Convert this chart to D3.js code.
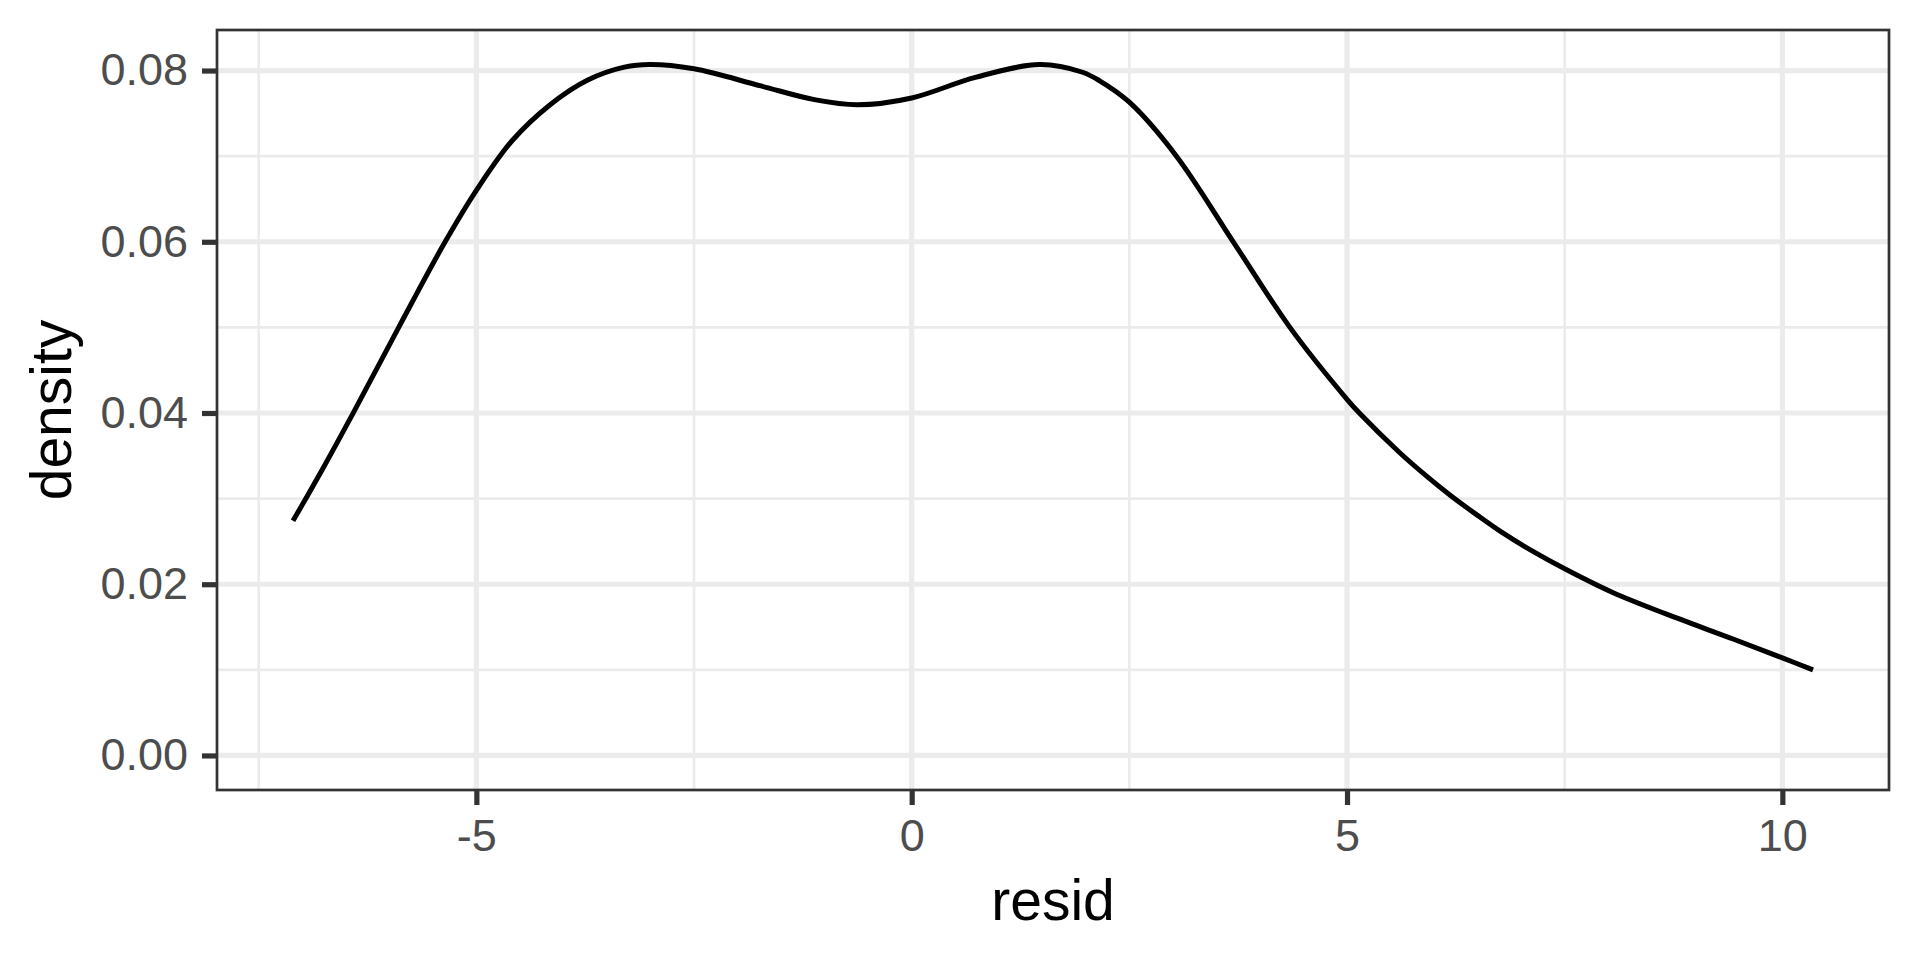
<!DOCTYPE html>
<html>
<head>
<meta charset="utf-8">
<script src="https://cdn.jsdelivr.net/npm/d3@7"></script>
<style>
  html, body { margin: 0; padding: 0; background: #ffffff; }
  svg { display: block; font-family: "Liberation Sans", Arial, Helvetica, sans-serif; }
</style>
</head>
<body>
<svg id="chart" width="1920" height="960"></svg>
<script>
// ---- data ----
const residValues = [-7.106, -6.753, -6.409, -5.892, -5.375, -5.0, -4.59, -4.142, -3.72, -3.30, -3.005, -2.5, -1.732, -1.117, -0.624, 0.0, 0.731, 1.47, 1.962, 2.159, 2.5, 3.041, 3.693, 4.344, 5.0, 5.15, 5.612, 5.917, 6.185, 6.491, 6.758, 7.141, 7.5, 8.058, 8.67, 9.434, 10.0, 10.352];
const densityValues = [0.0274, 0.0337, 0.0401, 0.0500, 0.0597, 0.0660, 0.0718, 0.0761, 0.0789, 0.0804, 0.0807, 0.0802, 0.0782, 0.0766, 0.0760, 0.0768, 0.0792, 0.0807, 0.0798, 0.0788, 0.0763, 0.0700, 0.0600, 0.0500, 0.0416, 0.0399, 0.0353, 0.0326, 0.0304, 0.0281, 0.0262, 0.0238, 0.0218, 0.0190, 0.0165, 0.0136, 0.0114, 0.0100];
const xMajorTicks = [-5, 0, 5, 10];
const xMinorTicks = [-7.5, -2.5, 2.5, 7.5];
const yMajorTicks = [0, 0.02, 0.04, 0.06, 0.08];
const yMinorTicks = [0.01, 0.03, 0.05, 0.07];
const xTitle = "resid";
const yTitle = "density";

const points = residValues.map((x, i) => ({ x, y: densityValues[i] }));

// ---- layout ----
const panel = { left: 217, right: 1889, top: 30, bottom: 790 };
const svg = d3.select("#chart");

const xExt = d3.extent(residValues);
const xPad = (xExt[1] - xExt[0]) * 0.05;
const yMax = d3.max(densityValues);
const yPad = (yMax - 0) * 0.05;

const x = d3.scaleLinear().domain([xExt[0] - xPad, xExt[1] + xPad]).range([panel.left, panel.right]);
const y = d3.scaleLinear().domain([0 - yPad, yMax + yPad]).range([panel.bottom, panel.top]);

const W = panel.right - panel.left, H = panel.bottom - panel.top;

svg.append("defs").append("clipPath").attr("id", "clip")
  .append("rect").attr("x", panel.left).attr("y", panel.top).attr("width", W).attr("height", H);

const grid = svg.append("g").attr("clip-path", "url(#clip)");
// minor grid
grid.selectAll(".xmin").data(xMinorTicks).enter().append("line")
  .attr("x1", d => x(d)).attr("x2", d => x(d)).attr("y1", panel.top).attr("y2", panel.bottom)
  .attr("stroke", "#ebebeb").attr("stroke-width", 2.7);
grid.selectAll(".ymin").data(yMinorTicks).enter().append("line")
  .attr("y1", d => y(d)).attr("y2", d => y(d)).attr("x1", panel.left).attr("x2", panel.right)
  .attr("stroke", "#ebebeb").attr("stroke-width", 2.7);
// major grid
grid.selectAll(".xmaj").data(xMajorTicks).enter().append("line")
  .attr("x1", d => x(d)).attr("x2", d => x(d)).attr("y1", panel.top).attr("y2", panel.bottom)
  .attr("stroke", "#ebebeb").attr("stroke-width", 5.2);
grid.selectAll(".ymaj").data(yMajorTicks).enter().append("line")
  .attr("y1", d => y(d)).attr("y2", d => y(d)).attr("x1", panel.left).attr("x2", panel.right)
  .attr("stroke", "#ebebeb").attr("stroke-width", 5.2);

// density line
const line = d3.line().x(d => x(d.x)).y(d => y(d.y)).curve(d3.curveCatmullRom.alpha(0.5));
svg.append("path").datum(points)
  .attr("d", line)
  .attr("fill", "none")
  .attr("stroke", "#000000")
  .attr("stroke-width", 5)
  .attr("stroke-linejoin", "round")
  .attr("stroke-linecap", "butt")
  .attr("clip-path", "url(#clip)");

// panel border
svg.append("rect")
  .attr("x", panel.left).attr("y", panel.top).attr("width", W).attr("height", H)
  .attr("fill", "none").attr("stroke", "#333333").attr("stroke-width", 2.7);

// axes
const xAxis = d3.axisBottom(x).tickValues(xMajorTicks).tickSize(15).tickPadding(14)
  .tickFormat(d3.format("d"));
const gx = svg.append("g").attr("transform", `translate(0,${panel.bottom})`).call(xAxis);
gx.select(".domain").remove();
gx.selectAll(".tick line").attr("stroke", "#333333").attr("stroke-width", 5.2);
gx.selectAll(".tick text").attr("fill", "#4d4d4d").attr("font-size", 45)
  .attr("font-family", "'Liberation Sans', Arial, sans-serif")
  .text(d => (d < 0 ? "-" : "") + Math.abs(d));

const yAxis = d3.axisLeft(y).tickValues(yMajorTicks).tickSize(15).tickPadding(14)
  .tickFormat(d3.format(".2f"));
const gy = svg.append("g").attr("transform", `translate(${panel.left},0)`).call(yAxis);
gy.select(".domain").remove();
gy.selectAll(".tick line").attr("stroke", "#333333").attr("stroke-width", 5.2);
gy.selectAll(".tick text").attr("fill", "#4d4d4d").attr("font-size", 45)
  .attr("font-family", "'Liberation Sans', Arial, sans-serif");

// axis titles
svg.append("text")
  .attr("x", (panel.left + panel.right) / 2).attr("y", 920)
  .attr("text-anchor", "middle").attr("font-size", 57).attr("fill", "#000000")
  .text(xTitle);
svg.append("text")
  .attr("transform", `translate(71,${(panel.top + panel.bottom) / 2}) rotate(-90)`)
  .attr("text-anchor", "middle").attr("font-size", 57).attr("fill", "#000000")
  .text(yTitle);
</script>
</body>
</html>
